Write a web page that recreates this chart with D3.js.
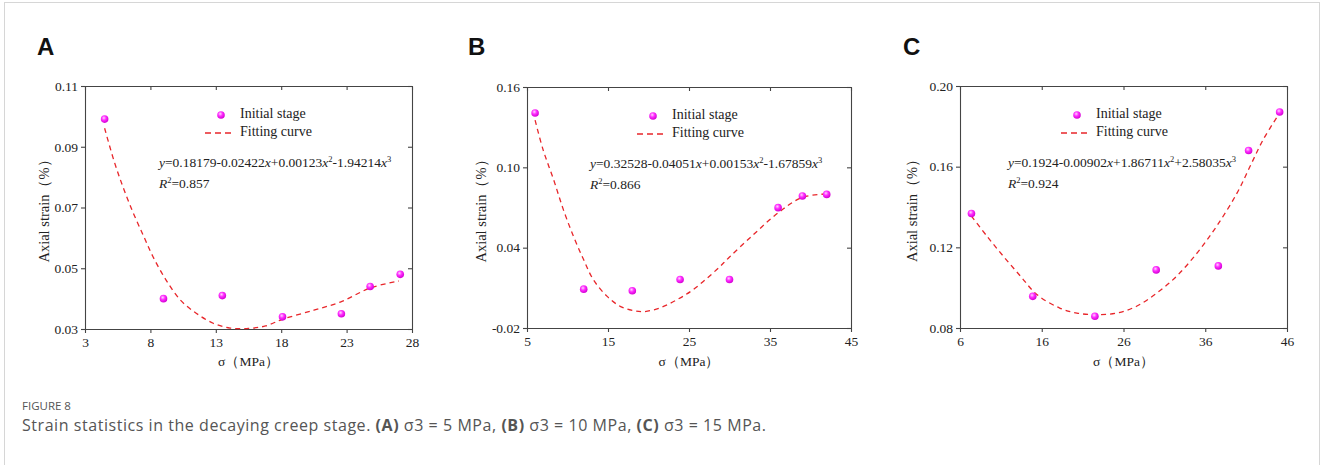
<!DOCTYPE html>
<html lang="en">
<head>
<meta charset="utf-8">
<title>Figure 8</title>
<script src="https://d3js.org/d3.v7.min.js"></script>
<style>
body { margin: 0; background: #fff; }
.tick text { font-family: 'Liberation Serif', 'Times New Roman', serif; font-size: 13.5px; fill: #222; }
</style>
</head>
<body>
<div id="chart"></div>
<script>
var width = 1328, height = 465;

// panel letters and axis ticks
var panelLabels = ["A", "B", "C"];
var xTicksA = [3, 8, 13, 18, 23, 28];
var yTicksA = [0.03, 0.05, 0.07, 0.09, 0.11];
var xTicksB = [5, 15, 25, 35, 45];
var yTicksB = [-0.02, 0.04, 0.10, 0.16];
var xTicksC = [6, 16, 26, 36, 46];
var yTicksC = [0.08, 0.12, 0.16, 0.20];

// measured points (sigma in MPa, axial strain in %)
var sigmaA = [4.5, 9.0, 13.5, 18.1, 22.6, 24.8, 27.1];
var strainA = [0.0991, 0.0400, 0.0410, 0.0340, 0.0350, 0.0440, 0.0480];
var sigmaB = [6.0, 12.0, 18.0, 23.9, 30.0, 36.0, 39.0, 42.0];
var strainB = [0.1406, 0.0090, 0.0078, 0.0162, 0.0162, 0.0699, 0.0786, 0.0798];
var sigmaC = [7.4, 14.9, 22.5, 30.0, 37.6, 41.3, 45.1];
var strainC = [0.1368, 0.0957, 0.0858, 0.1088, 0.1108, 0.1680, 0.1871];

// fitted curves
var fitXA = [4.5, 5.2, 5.9, 6.7, 7.5, 8.2, 9.2, 10.3, 11.5, 12.8, 14.1, 15.5, 16.8, 18.1, 20.5, 22.6, 24.8, 27.0];
var fitYA = [0.0961, 0.0856, 0.0768, 0.0681, 0.0604, 0.0538, 0.0461, 0.0395, 0.0352, 0.0319, 0.0303, 0.0302, 0.0310, 0.0332, 0.0362, 0.0390, 0.0435, 0.0458];
var fitXB = [6, 7, 8.3, 9.5, 10.75, 12, 13.2, 14.9, 16.5, 18.1, 19.4, 21.4, 23.5, 25.5, 28.4, 30, 33, 36, 39, 42];
var fitYB = [0.1352, 0.1129, 0.0905, 0.0682, 0.0483, 0.0309, 0.016, 0.0036, -0.0038, -0.007, -0.0078, -0.005, 0.0011, 0.0086, 0.0235, 0.033, 0.050, 0.066, 0.0776, 0.0801];
var fitXC = [7.4, 9.3, 11.3, 13.4, 15.4, 18.2, 20.3, 22.7, 25.2, 27.6, 30.1, 32.5, 35.0, 37.4, 39.9, 41.5, 43.1, 45.0];
var fitYC = [0.1355, 0.1255, 0.1156, 0.1057, 0.0966, 0.0899, 0.0874, 0.0866, 0.0874, 0.0908, 0.0974, 0.1057, 0.1172, 0.1305, 0.147, 0.1603, 0.1735, 0.186];

// fit equations and R2
var eqA = ["0.18179-0.02422", "+0.00123", "-1.94214"];
var eqB = ["0.32528-0.04051", "+0.00153", "-1.67859"];
var eqC = ["0.1924-0.00902", "+1.86711", "+2.58035"];
var r2Values = ["0.857", "0.866", "0.924"];

var panels = [
    {label: panelLabels[0], xs: sigmaA, ys: strainA, fx: fitXA, fy: fitYA, xt: xTicksA, yt: yTicksA, eq: eqA, r2: r2Values[0],
     box: [85, 412, 86, 329], letterX: 37, legX: 221, eqX: 159, ylabX: 46},
    {label: panelLabels[1], xs: sigmaB, ys: strainB, fx: fitXB, fy: fitYB, xt: xTicksB, yt: yTicksB, eq: eqB, r2: r2Values[1],
     box: [527, 851, 87, 328], letterX: 468, legX: 653, eqX: 590, ylabX: 483},
    {label: panelLabels[2], xs: sigmaC, ys: strainC, fx: fitXC, fy: fitYC, xt: xTicksC, yt: yTicksC, eq: eqC, r2: r2Values[2],
     box: [960, 1287, 86, 328], letterX: 903, legX: 1077, eqX: 1008, ylabX: 914}
];

var serif = "'Liberation Serif', 'Times New Roman', serif";
var fmt2 = d3.format(".2f");
function yFormat(d) { return fmt2(d).replace("\u2212", "-"); }

var svg = d3.select("#chart").append("svg")
    .attr("width", width)
    .attr("height", height);

// card frame
svg.append("rect")
    .attr("x", 4.5).attr("y", 2.5)
    .attr("width", 1315).attr("height", 480)
    .attr("fill", "none")
    .attr("stroke", "#d6d6d6");

var defs = svg.append("defs");
var grad = defs.append("radialGradient").attr("id", "ball")
    .attr("cx", "40%").attr("cy", "35%").attr("r", "65%");
grad.append("stop").attr("offset", "0%").attr("stop-color", "#ffd6ff");
grad.append("stop").attr("offset", "45%").attr("stop-color", "#ff2eff");
grad.append("stop").attr("offset", "100%").attr("stop-color", "#d400d4");

panels.forEach(function (p) {
    var left = p.box[0], right = p.box[1], top = p.box[2], bottom = p.box[3];
    var x = d3.scaleLinear().domain([p.xt[0], p.xt[p.xt.length - 1]]).range([left, right]);
    var y = d3.scaleLinear().domain([p.yt[0], p.yt[p.yt.length - 1]]).range([bottom, top]);
    var g = svg.append("g");

    // panel letter
    g.append("text")
        .attr("x", p.letterX).attr("y", 55)
        .attr("font-family", "'Liberation Sans', Arial, sans-serif")
        .attr("font-weight", "bold")
        .attr("font-size", 24)
        .attr("fill", "#111")
        .text(p.label);

    // axes
    var bottomAxis = g.append("g").attr("transform", "translate(0," + bottom + ")")
        .call(d3.axisBottom(x).tickValues(p.xt).tickSize(4).tickSizeOuter(0).tickPadding(4).tickFormat(d3.format("d")));
    var topAxis = g.append("g").attr("transform", "translate(0," + top + ")")
        .call(d3.axisTop(x).tickValues(p.xt).tickSize(-4).tickSizeOuter(0).tickFormat(""));
    var leftAxis = g.append("g").attr("transform", "translate(" + left + ",0)")
        .call(d3.axisLeft(y).tickValues(p.yt).tickSize(4).tickSizeOuter(0).tickPadding(3).tickFormat(yFormat));
    var rightAxis = g.append("g").attr("transform", "translate(" + right + ",0)")
        .call(d3.axisRight(y).tickValues(p.yt).tickSize(-4).tickSizeOuter(0).tickFormat(""));

    [bottomAxis, topAxis, leftAxis, rightAxis].forEach(function (a) {
        a.select(".domain").attr("stroke", "#444").attr("stroke-width", 1.1);
        a.selectAll(".tick line").attr("stroke", "#444").attr("stroke-width", 1.1);
    });

    // axis titles
    g.append("text")
        .attr("x", (left + right) / 2).attr("y", 363)
        .attr("text-anchor", "middle")
        .attr("dominant-baseline", "middle")
        .attr("font-family", serif)
        .attr("font-size", 13.5)
        .attr("fill", "#222")
        .text("σ（MPa）");

    g.append("text")
        .attr("transform", "translate(" + p.ylabX + "," + ((top + bottom) / 2) + ") rotate(-90)")
        .attr("text-anchor", "middle")
        .attr("dominant-baseline", "middle")
        .attr("font-family", serif)
        .attr("font-size", 14.5)
        .attr("fill", "#222")
        .text("Axial strain（%）");

    // fitting curve
    var line = d3.line()
        .x(function (d, i) { return x(p.fx[i]); })
        .y(function (d) { return y(d); })
        .curve(d3.curveCatmullRom);
    g.append("path")
        .attr("d", line(p.fy))
        .attr("fill", "none")
        .attr("stroke", "#e8262a")
        .attr("stroke-width", 1.3)
        .attr("stroke-dasharray", "5,4");

    // points
    g.selectAll("circle.pt").data(p.ys).enter().append("circle")
        .attr("class", "pt")
        .attr("cx", function (d, i) { return x(p.xs[i]); })
        .attr("cy", function (d) { return y(d); })
        .attr("r", 3.8)
        .attr("fill", "url(#ball)");

    // legend
    var ly = top + 29;
    g.append("circle").attr("cx", p.legX).attr("cy", ly).attr("r", 3.8).attr("fill", "url(#ball)");
    g.append("text").attr("x", p.legX + 19).attr("y", ly)
        .attr("dominant-baseline", "middle")
        .attr("font-family", serif).attr("font-size", 14).attr("fill", "#222")
        .text("Initial stage");
    g.append("line")
        .attr("x1", p.legX - 16).attr("x2", p.legX + 14)
        .attr("y1", ly + 18).attr("y2", ly + 18)
        .attr("stroke", "#e8262a").attr("stroke-width", 1.3)
        .attr("stroke-dasharray", "6,4");
    g.append("text").attr("x", p.legX + 19).attr("y", ly + 18)
        .attr("dominant-baseline", "middle")
        .attr("font-family", serif).attr("font-size", 14).attr("fill", "#222")
        .text("Fitting curve");

    // equation
    var eq = g.append("text").attr("x", p.eqX).attr("y", top + 81)
        .attr("font-family", serif).attr("font-size", 13.5).attr("fill", "#222");
    eq.append("tspan").attr("font-style", "italic").text("y");
    eq.append("tspan").text("=" + p.eq[0]);
    eq.append("tspan").attr("font-style", "italic").text("x");
    eq.append("tspan").text(p.eq[1]);
    eq.append("tspan").attr("font-style", "italic").text("x");
    eq.append("tspan").attr("font-size", 8.5).attr("dy", -5).text("2");
    eq.append("tspan").attr("dy", 5).text(p.eq[2]);
    eq.append("tspan").attr("font-style", "italic").text("x");
    eq.append("tspan").attr("font-size", 8.5).attr("dy", -5).text("3");

    var r2 = g.append("text").attr("x", p.eqX).attr("y", top + 102)
        .attr("font-family", serif).attr("font-size", 13.5).attr("fill", "#222");
    r2.append("tspan").attr("font-style", "italic").text("R");
    r2.append("tspan").attr("font-size", 8.5).attr("dy", -5).text("2");
    r2.append("tspan").attr("dy", 5).text("=" + p.r2);
});

// caption
var sans = "'Open Sans', Lato, sans-serif";
svg.append("text")
    .attr("x", 22).attr("y", 410)
    .attr("font-family", sans).attr("font-size", 11.5).attr("fill", "#555")
    .text("FIGURE 8");

var cap = svg.append("text")
    .attr("x", 22).attr("y", 431)
    .attr("font-family", sans).attr("font-size", 16).attr("fill", "#555")
    .attr("letter-spacing", 0.55);
var capParts = [
    ["Strain statistics in the decaying creep stage. ", false],
    ["(A)", true], [" σ3 = 5 MPa, ", false],
    ["(B)", true], [" σ3 = 10 MPa, ", false],
    ["(C)", true], [" σ3 = 15 MPa.", false]
];
capParts.forEach(function (c) {
    cap.append("tspan").attr("font-weight", c[1] ? "bold" : "normal").text(c[0]);
});
</script>
</body>
</html>
